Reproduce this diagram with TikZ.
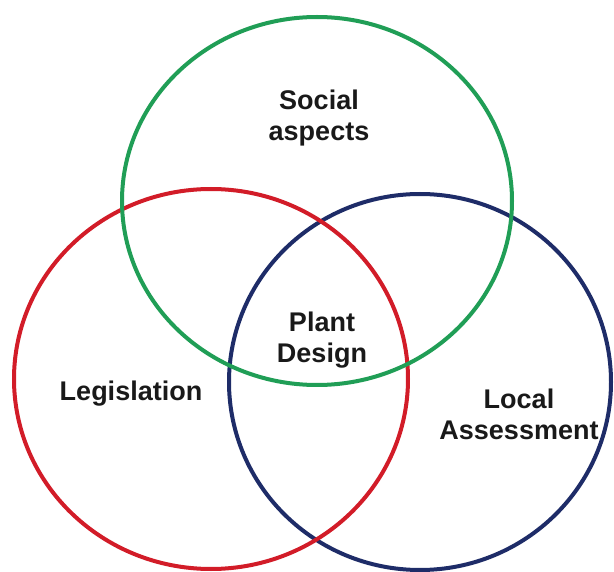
\documentclass[tikz,border=0pt]{standalone}
\usepackage{fontspec}
\setmainfont{Liberation Sans}
\definecolor{ringgreen}{RGB}{32,158,86}
\definecolor{ringred}{RGB}{210,28,40}
\definecolor{ringblue}{RGB}{30,44,104}
\tikzset{
  ring/.style={line width=4pt},
  label/.style={align=center, font=\bfseries\fontsize{27}{31}\selectfont, text=black!90}
}
\begin{document}
\begin{tikzpicture}[x=1pt, y=-1pt]
      \useasboundingbox (0,0) rectangle (614,572);

      % Local assessment (drawn first, lies underneath)
      \draw[ringblue, ring] (420,382) ellipse (191 and 188);

      % Legislation
      \draw[ringred, ring] (211,379) ellipse (197 and 190);

      % Social aspects
      \draw[ringgreen, ring] (317,201) ellipse (195 and 184);

      % Labels of the three sets and of their overlap
      \node[label] (social) at (319,118) {Social\\aspects};
      \node[label] (legis) at (131,394) {Legislation};
      \node[label] (local) at (519,414) {Local\\Assessment};
      \node[label] (plant) at (322,340) {Plant\\Design};
\end{tikzpicture}
\end{document}
